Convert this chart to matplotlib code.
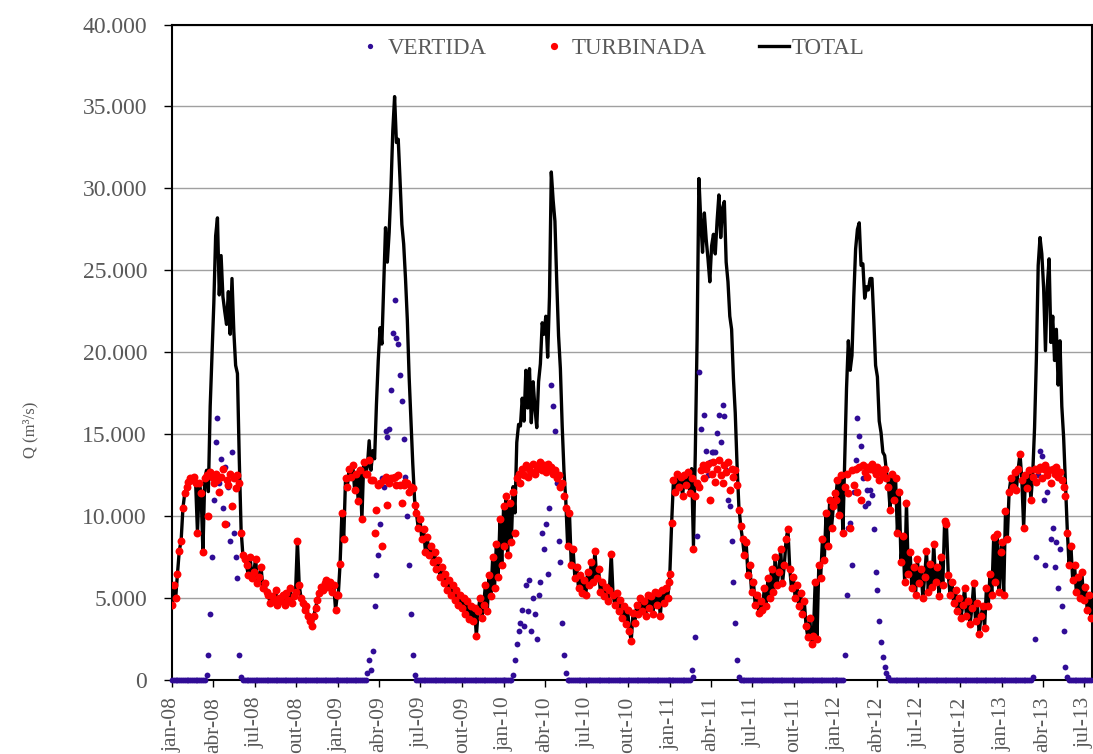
import numpy as np
import pandas as pd
import matplotlib
matplotlib.use("Agg")
import matplotlib.pyplot as plt
from matplotlib.lines import Line2D

plt.rcParams['font.family'] = ['Liberation Serif', 'DejaVu Serif']

# vazao turbinada (m3/s), uma amostra a cada 4 dias a partir de 1 de janeiro
turb_2008 = [4600, 5800, 5000, 6500, 7900, 8500, 10500, 11400, 11800, 12100,
             12300, 12200, 12400, 12000, 9000, 12000, 11400, 7800, 12300, 12500,
             10000, 12700, 12400, 12000, 12600, 12200, 11500, 12400, 12900, 9500,
             12200, 11900, 12600, 10600, 12300, 11700, 12500, 12000, 9000, 7600,
             7400, 7000, 6400, 7500, 6200, 6600, 7400, 5900, 6300, 6900,
             5600, 5900, 5400, 5200, 4700, 5100, 4800, 5500, 4600, 5000,
             4800, 5200, 4600, 5300, 4900, 5600, 4700, 5100, 5400, 8500,
             5800, 5000, 4700, 4300, 4500, 3900, 3600, 3300, 3900, 4400,
             4900, 5300, 5700, 5500, 5900, 6100, 5700, 6000, 5400, 5800,
             4300, 5200]
turb_2009 = [5200, 7100, 10200, 8600, 12300, 11800, 12900, 12400, 13100, 11600,
             12600, 10900, 12800, 9800, 13300, 12600, 12600, 13400, 12200, 12200,
             9000, 10400, 11900, 12000, 8200, 12200, 12400, 10700, 12000, 12300,
             12300, 12400, 11900, 12500, 11900, 10800, 11900, 12100, 12000, 11500,
             11800, 11700, 10700, 10200, 9300, 9800, 8600, 9200, 7800, 8700,
             7600, 8200, 7200, 7800, 6800, 7300, 6300, 6900, 5900, 6500,
             5500, 6100, 5200, 5800, 4900, 5500, 4600, 5200, 4400, 5000,
             4000, 4800, 3700, 4500, 3600, 4400, 2700, 4200, 5000, 3800,
             4600, 5800, 4200, 6400, 5100, 7500, 5600, 8300, 6300, 9800,
             7000, 10600]
turb_2010 = [8200, 11200, 7600, 10800, 8400, 11500, 9000, 12300, 12600, 12000,
             12900, 12500, 13100, 12400, 12900, 12700, 13200, 12600, 12900, 13000,
             13300, 12800, 13100, 12700, 13200, 12900, 13000, 12600, 12800, 12300,
             12500, 11800, 12000, 11200, 10500, 8200, 10200, 7000, 8000, 6200,
             6900, 5600, 6400, 5300, 6100, 5200, 6600, 5800, 7200, 6000,
             7900, 6200, 6800, 5400, 6000, 5100, 5700, 4800, 5500, 7700,
             5200, 4600, 5300, 4200, 4900, 3800, 4500, 3400, 4300, 3000,
             2400, 4100, 3500, 4600, 4000, 5000, 4200, 4800, 3900, 5200,
             4400, 5100, 4000, 5400, 4600, 5300, 3900, 5500, 4700, 5600,
             5000, 6000]
turb_2011 = [6500, 9600, 12200, 11500, 12600, 11800, 12400, 11200, 12500, 11900,
             12700, 11400, 12300, 8000, 11200, 12000, 11800, 12800, 13100, 12300,
             12900, 13200, 11000, 12600, 13300, 12100, 12900, 13400, 12500, 12000,
             13100, 12700, 13300, 11600, 12900, 12400, 12800, 11900, 10400, 9400,
             8600, 7600, 8400, 6400, 7000, 5400, 6000, 4600, 5200, 4100,
             4800, 4300, 5600, 4500, 6200, 5000, 6800, 5400, 7500, 5800,
             6600, 8000, 5900, 7000, 8600, 9200, 6800, 5600, 6300, 5000,
             5800, 4500, 5300, 4000, 4800, 3300, 2600, 3800, 2200, 2700,
             6000, 2500, 7000, 6200, 8600, 7300, 10200, 8200, 11000, 9300,
             10600, 11400]
turb_2012 = [11000, 12200, 10100, 12500, 9000, 11800, 12600, 11400, 9300, 12800,
             11900, 12900, 11500, 13000, 11000, 13100, 12700, 12400, 13000, 12900,
             13200, 12800, 12600, 13000, 12200, 12800, 12500, 12900, 12300, 11800,
             10400, 12600, 11000, 12300, 9000, 11500, 7200, 8800, 6000, 10800,
             6500, 7800, 5600, 6900, 5200, 7400, 5900, 6800, 5000, 6300,
             7900, 5400, 7100, 5700, 8300, 6000, 6900, 5100, 7500, 5800,
             9700, 9500, 6400, 5200, 6000, 4700, 5500, 4200, 5000, 3800,
             4600, 5600, 3900, 4800, 3400, 4400, 5900, 3600, 4700, 2800,
             3900, 4500, 3200, 5600, 4500, 6500, 5200, 8700, 6000, 8900,
             5400, 7800]
turb_2013 = [8400, 5200, 10300, 8600, 11500, 12300, 11800, 12700, 11600, 12900,
             13800, 12200, 9300, 12500, 11700, 12800, 11000, 12400, 12900, 12100,
             12800, 13000, 12300, 12900, 13100, 12500, 12800, 12000, 12900, 12600,
             13000, 12400, 12700, 12200, 11800, 11200, 9000, 7000, 8200, 6100,
             7000, 5400, 6300, 5000, 6600, 4900, 5700, 4300, 5200, 3800]

# vazao vertida durante as cheias (zero no resto do ano) e amostra de inicio
vert_2008 = [300, 1500, 4000, 7500, 11000, 14500, 16000, 12000, 13500, 10500,
             13000, 9500, 11800, 8500, 13900, 9000, 7500, 6200, 1500, 200]
ini_2008 = 19
vert_2009 = [400, 1200, 600, 1800, 4500, 6400, 7600, 9500, 12300, 11800,
             15200, 14800, 15300, 17700, 21200, 23200, 20900, 20500, 18600, 17000,
             14700, 12400, 10000, 7000, 4000, 1500, 300]
ini_2009 = 16
vert_2010 = [300, 1200, 2200, 3000, 3500, 4300, 3300, 5800, 4200, 6100,
             3000, 5000, 4000, 2500, 5200, 6000, 9000, 8000, 9500, 6500,
             10500, 18000, 16700, 15200, 12000, 8500, 7200, 3500, 1500, 400]
ini_2010 = 5
vert_2011 = [600, 200, 2600, 8800, 18800, 15300, 13000, 16200, 14000, 12500,
             13300, 13900, 13900, 13900, 15100, 16200, 14500, 16800, 16100, 12800,
             11000, 10600, 8500, 6000, 3500, 1200, 200]
ini_2011 = 12
vert_2012 = [1500, 5200, 9300, 9600, 7000, 11500, 13400, 16000, 14900, 14300,
             12300, 10600, 11600, 10800, 11600, 11300, 9200, 6600, 5500, 3600,
             2300, 1400, 800, 400, 200]
ini_2012 = 5
vert_2013 = [200, 2500, 7500, 12500, 14000, 13700, 11000, 7000, 11500, 12900,
             8600, 9300, 6900, 8400, 5600, 8000, 4500, 3000, 800, 200]
ini_2013 = 17

anos = [2008, 2009, 2010, 2011, 2012, 2013]
turb_anos = [turb_2008, turb_2009, turb_2010, turb_2011, turb_2012, turb_2013]
vert_anos = [(vert_2008, ini_2008), (vert_2009, ini_2009), (vert_2010, ini_2010),
             (vert_2011, ini_2011), (vert_2012, ini_2012), (vert_2013, ini_2013)]

datas, turb, vert = [], [], []
for ano, t, (v, ini) in zip(anos, turb_anos, vert_anos):
    d = pd.date_range(f'{ano}-01-01', periods=len(t), freq='4D')
    vv = np.zeros(len(t))
    vv[ini:ini + len(v)] = v
    datas.append(d.values)
    turb.append(np.array(t, dtype=float))
    vert.append(vv)
datas = pd.DatetimeIndex(np.concatenate(datas))
turb = np.concatenate(turb)
vert = np.concatenate(vert)
total = turb + vert

cinza = '#595959'
fig = plt.figure(figsize=(10.93, 7.54), dpi=100)
ax = fig.add_axes([0.1574, 0.0981, 0.8417, 0.8694])

ax.plot(datas, total, color='black', lw=2.4, zorder=2)
ax.plot(datas, vert, 'o', color='#300C96', ms=4.2, mew=0, zorder=3, clip_on=False)
ax.plot(datas, turb, 'o', color='#FF0000', ms=5.7, mew=0, zorder=4)

# eixo y
ax.set_ylim(0, 40000)
yt = np.arange(0, 40001, 5000)
ax.set_yticks(yt)
ax.set_yticklabels([f'{v:,.0f}'.replace(',', '.') for v in yt])
ax.yaxis.grid(True, color='#A0A0A0', lw=1.0)
ax.set_axisbelow(True)

# eixo x trimestral
meses = {1: 'jan', 4: 'abr', 7: 'jul', 10: 'out'}
xt = pd.date_range('2008-01-01', '2013-07-01', freq='QS')
ax.set_xticks(xt)
ax.set_xticklabels([f'{meses[d.month]}-{d:%y}' for d in xt], rotation=90)
ax.set_xlim(pd.Timestamp('2008-01-01'), pd.Timestamp('2013-07-18 12:00'))

ax.tick_params(axis='y', direction='out', length=6, width=1, pad=12,
               labelsize=17, labelcolor=cinza)
ax.tick_params(axis='x', direction='out', length=5, width=1, pad=7,
               labelsize=15.5, labelcolor=cinza)
for s in ax.spines.values():
    s.set_linewidth(1.5)
    s.set_color('black')

fig.text(30 / 1093, 1 - 430 / 754, 'Q (m³/s)', rotation=90, va='center',
         ha='center', fontsize=12, color=cinza)

handles = [
    Line2D([], [], ls='none', marker='o', color='#300C96', ms=3.8, mew=0),
    Line2D([], [], ls='none', marker='o', color='#FF0000', ms=5.2, mew=0),
    Line2D([], [], color='black', lw=2.4),
]
leg = ax.legend(handles, ['VERTIDA', 'TURBINADA', 'TOTAL'], loc='center',
                bbox_to_anchor=(0.476, 0.9640), ncol=3, frameon=False,
                fontsize=16.5, handlelength=1.27, handletextpad=0.15,
                columnspacing=2.3, numpoints=1)
for t in leg.get_texts():
    t.set_color(cinza)

fig.savefig('out.png', dpi=100)
